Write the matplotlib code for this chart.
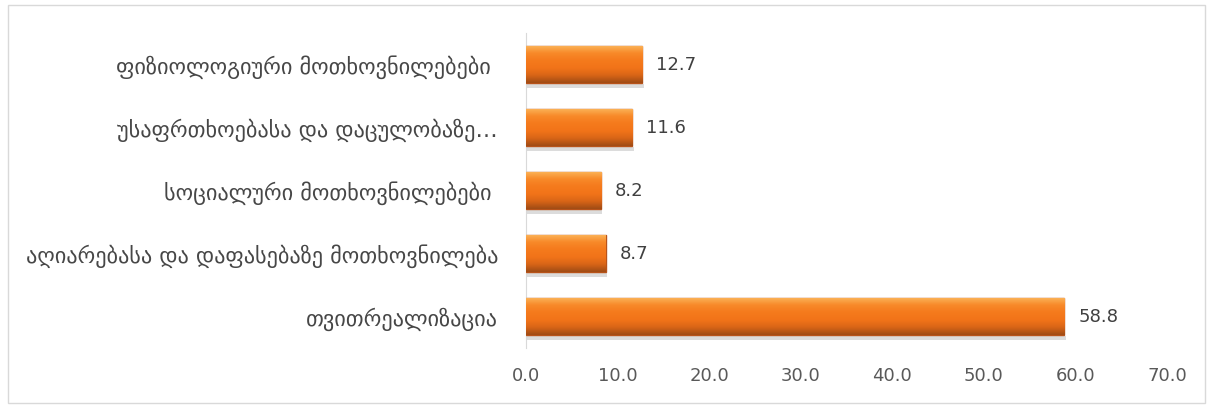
import numpy as np
import matplotlib.pyplot as plt
from matplotlib.patches import Rectangle

# data (top to bottom)
categories = ["ფიზიოლოგიური მოთხოვნილებები ",
              "უსაფრთხოებასა და დაცულობაზე…",
              "სოციალური მოთხოვნილებები ",
              "აღიარებასა და დაფასებაზე მოთხოვნილება",
              "თვითრეალიზაცია"]
values = [12.7, 11.6, 8.2, 8.7, 58.8]
xticks = [0, 10, 20, 30, 40, 50, 60, 70]

plt.rcParams['font.family'] = ['DejaVu Sans']

fig = plt.figure(figsize=(12.13, 4.08), dpi=100)
ax = fig.add_axes([0.4336, 0.147, 0.5285, 0.772])

ypos = np.arange(len(categories))
bars = ax.barh(ypos, values, height=0.59, color="#F57A1C",
               edgecolor="#B8531A", linewidth=1.0, zorder=3)

# glossy gradient + soft shadow on every bar
grad = np.linspace(0, 1, 64).reshape(-1, 1)
cmap = plt.matplotlib.colors.LinearSegmentedColormap.from_list(
    "bar", ["#FBB55A", "#F88A2A", "#F57A1C", "#F27419", "#D96517", "#A04C15"])
for b in bars:
    x0, y0, w, h = b.get_x(), b.get_y(), b.get_width(), b.get_height()
    sh = Rectangle((x0 + 0.15, y0 + h + 0.01), w, 0.06, color="#8C8C8C",
                   alpha=0.3, lw=0, zorder=2)
    ax.add_patch(sh)
    im = ax.imshow(grad, cmap=cmap, aspect="auto", extent=(x0, x0 + w, y0 + h, y0),
                   zorder=3.5, interpolation="bicubic")
    im.set_clip_path(b)
    ax.text(w + 1.5, b.get_y() + h / 2, f"{w:.1f}", va="center", ha="left",
            fontsize=13, color="#404040")

ax.set_yticks(ypos)
ax.set_yticklabels(categories, fontsize=16, color="#474747")
ax.set_xticks(xticks)
ax.set_xticklabels([f"{t:.1f}" for t in xticks], fontsize=13, color="#595959")
ax.set_xlim(0, 70)
ax.set_ylim(len(categories) - 0.5, -0.5)
ax.tick_params(axis="both", length=0)
ax.tick_params(axis="x", pad=14)
ax.tick_params(axis="y", pad=20)
for s in ["top", "right", "bottom"]:
    ax.spines[s].set_visible(False)
ax.spines["left"].set_color("#D9D9D9")

fig.patches.append(Rectangle((0.007, 0.012), 0.986, 0.976, transform=fig.transFigure,
                             fill=False, edgecolor="#D9D9D9", lw=1))

fig.savefig("out.png", dpi=100)
